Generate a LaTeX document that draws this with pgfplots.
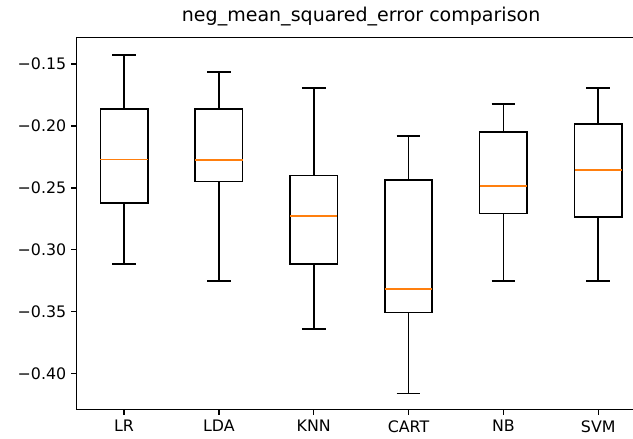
\documentclass[border=0pt]{standalone}
\usepackage{fontspec}
\setmainfont{DejaVu Sans}
\usepackage{pgfplots}
\pgfplotsset{compat=1.18}
\usepgfplotslibrary{statistics}
\definecolor{mplorange}{HTML}{FF7F0E}
\begin{document}
\begin{tikzpicture}
\path[use as bounding box] (-55.2pt,-21.4pt) rectangle (400.6pt,294.7pt);
\begin{axis}[
  at={(0pt,0pt)}, anchor=south west,
  scale only axis,
  width=409.7pt, height=267.8pt,
  xmin=0.5, xmax=6.5,
  ymin=-0.4288, ymax=-0.1284,
  xtick={1,2,3,4,5,6},
  xticklabels={LR,LDA,KNN,CART,NB,SVM},
  ytick={-0.40,-0.35,-0.30,-0.25,-0.20,-0.15},
  yticklabels={−0.40,−0.35,−0.30,−0.25,−0.20,−0.15},
  tick pos=left,
  tick align=outside,
  major tick length=4pt,
  tick style={line width=0.9pt, black},
  axis line style={line width=0.9pt, black},
  every tick label/.append style={font=\fontsize{11.4}{13}\selectfont},
  xticklabel style={yshift=-0.5pt},
  title={neg\_mean\_squared\_error comparison},
  title style={font=\fontsize{13.7}{16}\selectfont, yshift=-1pt},
  boxplot/draw direction=y,
  boxplot/box extend=0.5,
  boxplot/whisker extend=0.25,
  boxplot/every median/.style={draw=mplorange, solid, line width=1.15pt},
  boxplot/every box/.style={draw=black, solid, line width=1.15pt},
  boxplot/every whisker/.style={draw=black, solid, line width=1.15pt},
]
\addplot[black, solid, line width=1.15pt, mark=none, boxplot prepared={draw position=1,
  lower whisker=-0.3116, lower quartile=-0.2623, median=-0.2270,
  upper quartile=-0.1861, upper whisker=-0.1427}] coordinates {};
\addplot[black, solid, line width=1.15pt, mark=none, boxplot prepared={draw position=2,
  lower whisker=-0.3253, lower quartile=-0.2448, median=-0.2273,
  upper quartile=-0.1861, upper whisker=-0.1562}] coordinates {};
\addplot[black, solid, line width=1.15pt, mark=none, boxplot prepared={draw position=3,
  lower whisker=-0.3640, lower quartile=-0.3116, median=-0.2728,
  upper quartile=-0.2399, upper whisker=-0.1694}] coordinates {};
\addplot[black, solid, line width=1.15pt, mark=none, boxplot prepared={draw position=4,
  lower whisker=-0.4160, lower quartile=-0.3506, median=-0.3317,
  upper quartile=-0.2437, upper whisker=-0.2079}] coordinates {};
\addplot[black, solid, line width=1.15pt, mark=none, boxplot prepared={draw position=5,
  lower whisker=-0.3253, lower quartile=-0.2706, median=-0.2485,
  upper quartile=-0.2049, upper whisker=-0.1821}] coordinates {};
\addplot[black, solid, line width=1.15pt, mark=none, boxplot prepared={draw position=6,
  lower whisker=-0.3253, lower quartile=-0.2733, median=-0.2356,
  upper quartile=-0.1982, upper whisker=-0.1691}] coordinates {};
\end{axis}
\end{tikzpicture}
\end{document}
